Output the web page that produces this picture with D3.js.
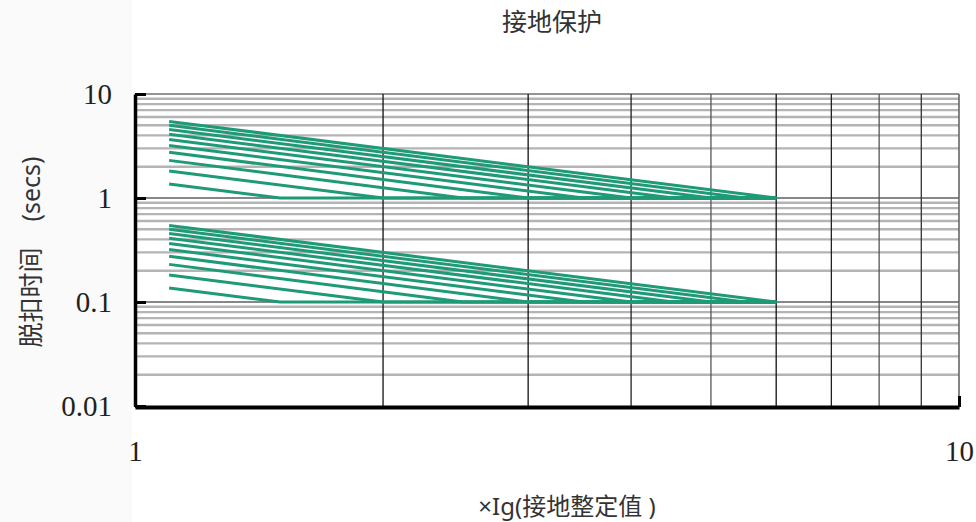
<!DOCTYPE html>
<html>
<head>
<meta charset="utf-8">
<script src="https://cdn.jsdelivr.net/npm/d3@7/dist/d3.min.js"></script>
<style>
  html, body { margin: 0; padding: 0; background: #ffffff; }
  svg { display: block; }
</style>
</head>
<body>
<svg id="chart" width="976" height="522"></svg>
<script>
// Earth-fault protection: inverse-time curves with a definite-time floor
const title = "接地保护";
const xLabel = "×Ig(接地整定值 )";
const yLabel = "脱扣时间    (secs)";

const xTicks = [1, 10];
const xTickLabels = ["1", "10"];
const yTicks = [0.01, 0.1, 1, 10];
const yTickLabels = ["0.01", "0.1", "1", "10"];

// Curves start at 1.1×Ig
const startCurrent = 1.1;
// Upper family (floor 1 s)
const upperStartTimes = [5.45, 5.0, 4.55, 4.1, 3.65, 3.2, 2.75, 2.3, 1.82, 1.36];
const upperKneeCurrents = [6, 5.5, 5, 4.5, 4, 3.5, 3, 2.5, 2, 1.5];
const upperFloor = 1;
// Lower family (floor 0.1 s)
const lowerStartTimes = [0.545, 0.5, 0.455, 0.41, 0.365, 0.32, 0.275, 0.23, 0.182, 0.136];
const lowerKneeCurrents = [6, 5.5, 5, 4.5, 4, 3.5, 3, 2.5, 2, 1.5];
const lowerFloor = 0.1;
// Definite-time section ends here
const endCurrent = 6;

const svg = d3.select("#chart");
const plotLeft = 135, plotRight = 959, plotTop = 94, plotBottom = 406;

const x = d3.scaleLog().domain([1, 10]).range([plotLeft, plotRight]);
const y = d3.scaleLog().domain([0.01, 10]).range([plotBottom, plotTop]);

// light margin strip on the left
svg.append("rect").attr("x", 0).attr("y", 0).attr("width", 132).attr("height", 522)
  .attr("fill", "#fafafa");

// minor horizontal grid (2..9 of each decade)
const minorY = [];
[0.01, 0.1, 1].forEach(d => { for (let m = 2; m <= 9; m++) minorY.push(d * m); });
svg.append("g").selectAll("line").data(minorY).join("line")
  .attr("x1", plotLeft).attr("x2", plotRight)
  .attr("y1", d => y(d)).attr("y2", d => y(d))
  .attr("stroke", "#b4b4b4").attr("stroke-width", 2.4);

// major horizontal grid
svg.append("g").selectAll("line").data([0.1, 1]).join("line")
  .attr("x1", plotLeft).attr("x2", plotRight)
  .attr("y1", d => y(d)).attr("y2", d => y(d))
  .attr("stroke", "#111").attr("stroke-width", 1.2);
svg.append("line").attr("x1", plotLeft).attr("x2", plotRight)
  .attr("y1", y(10)).attr("y2", y(10))
  .attr("stroke", "#707070").attr("stroke-width", 1.6);

// vertical grid
const vGrid = [2, 3, 4, 5, 6, 7, 8, 9];
const vColor = {2: "#111", 3: "#111", 4: "#222", 5: "#555", 6: "#111", 7: "#222", 8: "#555", 9: "#333"};
svg.append("g").selectAll("line").data(vGrid).join("line")
  .attr("x1", d => x(d)).attr("x2", d => x(d))
  .attr("y1", plotTop).attr("y2", plotBottom)
  .attr("stroke", d => vColor[d]).attr("stroke-width", 1.3);
svg.append("line").attr("x1", x(10)).attr("x2", x(10))
  .attr("y1", plotTop).attr("y2", plotBottom)
  .attr("stroke", "#666").attr("stroke-width", 1.6);

// curves
const line = d3.line().x(d => x(d[0])).y(d => y(d[1]));
const curves = [];
upperStartTimes.forEach((t, i) => curves.push([[startCurrent, t], [upperKneeCurrents[i], upperFloor], [endCurrent, upperFloor]]));
lowerStartTimes.forEach((t, i) => curves.push([[startCurrent, t], [lowerKneeCurrents[i], lowerFloor], [endCurrent, lowerFloor]]));
svg.append("g").selectAll("path").data(curves).join("path")
  .attr("d", line)
  .attr("fill", "none")
  .attr("stroke", "#1f9a77")
  .attr("stroke-width", 3)
  .attr("stroke-linejoin", "round");

// axes
const serif = "'Liberation Serif', 'Times New Roman', serif";
function styleTickText(g) {
  g.selectAll(".tick text")
    .style("font-family", serif)
    .style("font-size", "29px")
    .style("fill", "#231f20");
}
const yAxis = d3.axisLeft(y).tickValues(yTicks)
  .tickFormat((d, i) => yTickLabels[i]).tickSizeInner(-11).tickSizeOuter(0).tickPadding(23);
const gy = svg.append("g").attr("transform", `translate(${plotLeft},0)`).call(yAxis);
gy.select(".domain").attr("stroke", "#000").attr("stroke-width", 3.5);
gy.selectAll(".tick line").attr("stroke", "#000").attr("stroke-width", 3);
styleTickText(gy);

const xAxis = d3.axisBottom(x).tickValues(xTicks)
  .tickFormat((d, i) => xTickLabels[i]).tickSizeInner(-11).tickSizeOuter(0).tickPadding(33);
const gx = svg.append("g").attr("transform", `translate(0,${plotBottom + 1})`).call(xAxis);
gx.select(".domain").attr("stroke", "#000").attr("stroke-width", 4);
gx.selectAll(".tick line").attr("stroke", "#000").attr("stroke-width", 3);
styleTickText(gx);

// titles
const sans = "'Noto Sans', 'Noto Sans CJK SC', sans-serif";
svg.append("text").attr("x", 552).attr("y", 31).attr("text-anchor", "middle")
  .style("font-family", sans).style("font-size", "25px").attr("fill", "#333").text(title);
svg.append("text").attr("x", 567).attr("y", 515).attr("text-anchor", "middle")
  .style("font-family", sans).style("font-size", "24px").attr("fill", "#333").text(xLabel);
svg.append("text").attr("transform", "translate(40,252) rotate(-90)").attr("text-anchor", "middle")
  .style("font-family", sans).style("font-size", "25px").style("white-space", "pre")
  .attr("fill", "#333").text(yLabel);
</script>
</body>
</html>
